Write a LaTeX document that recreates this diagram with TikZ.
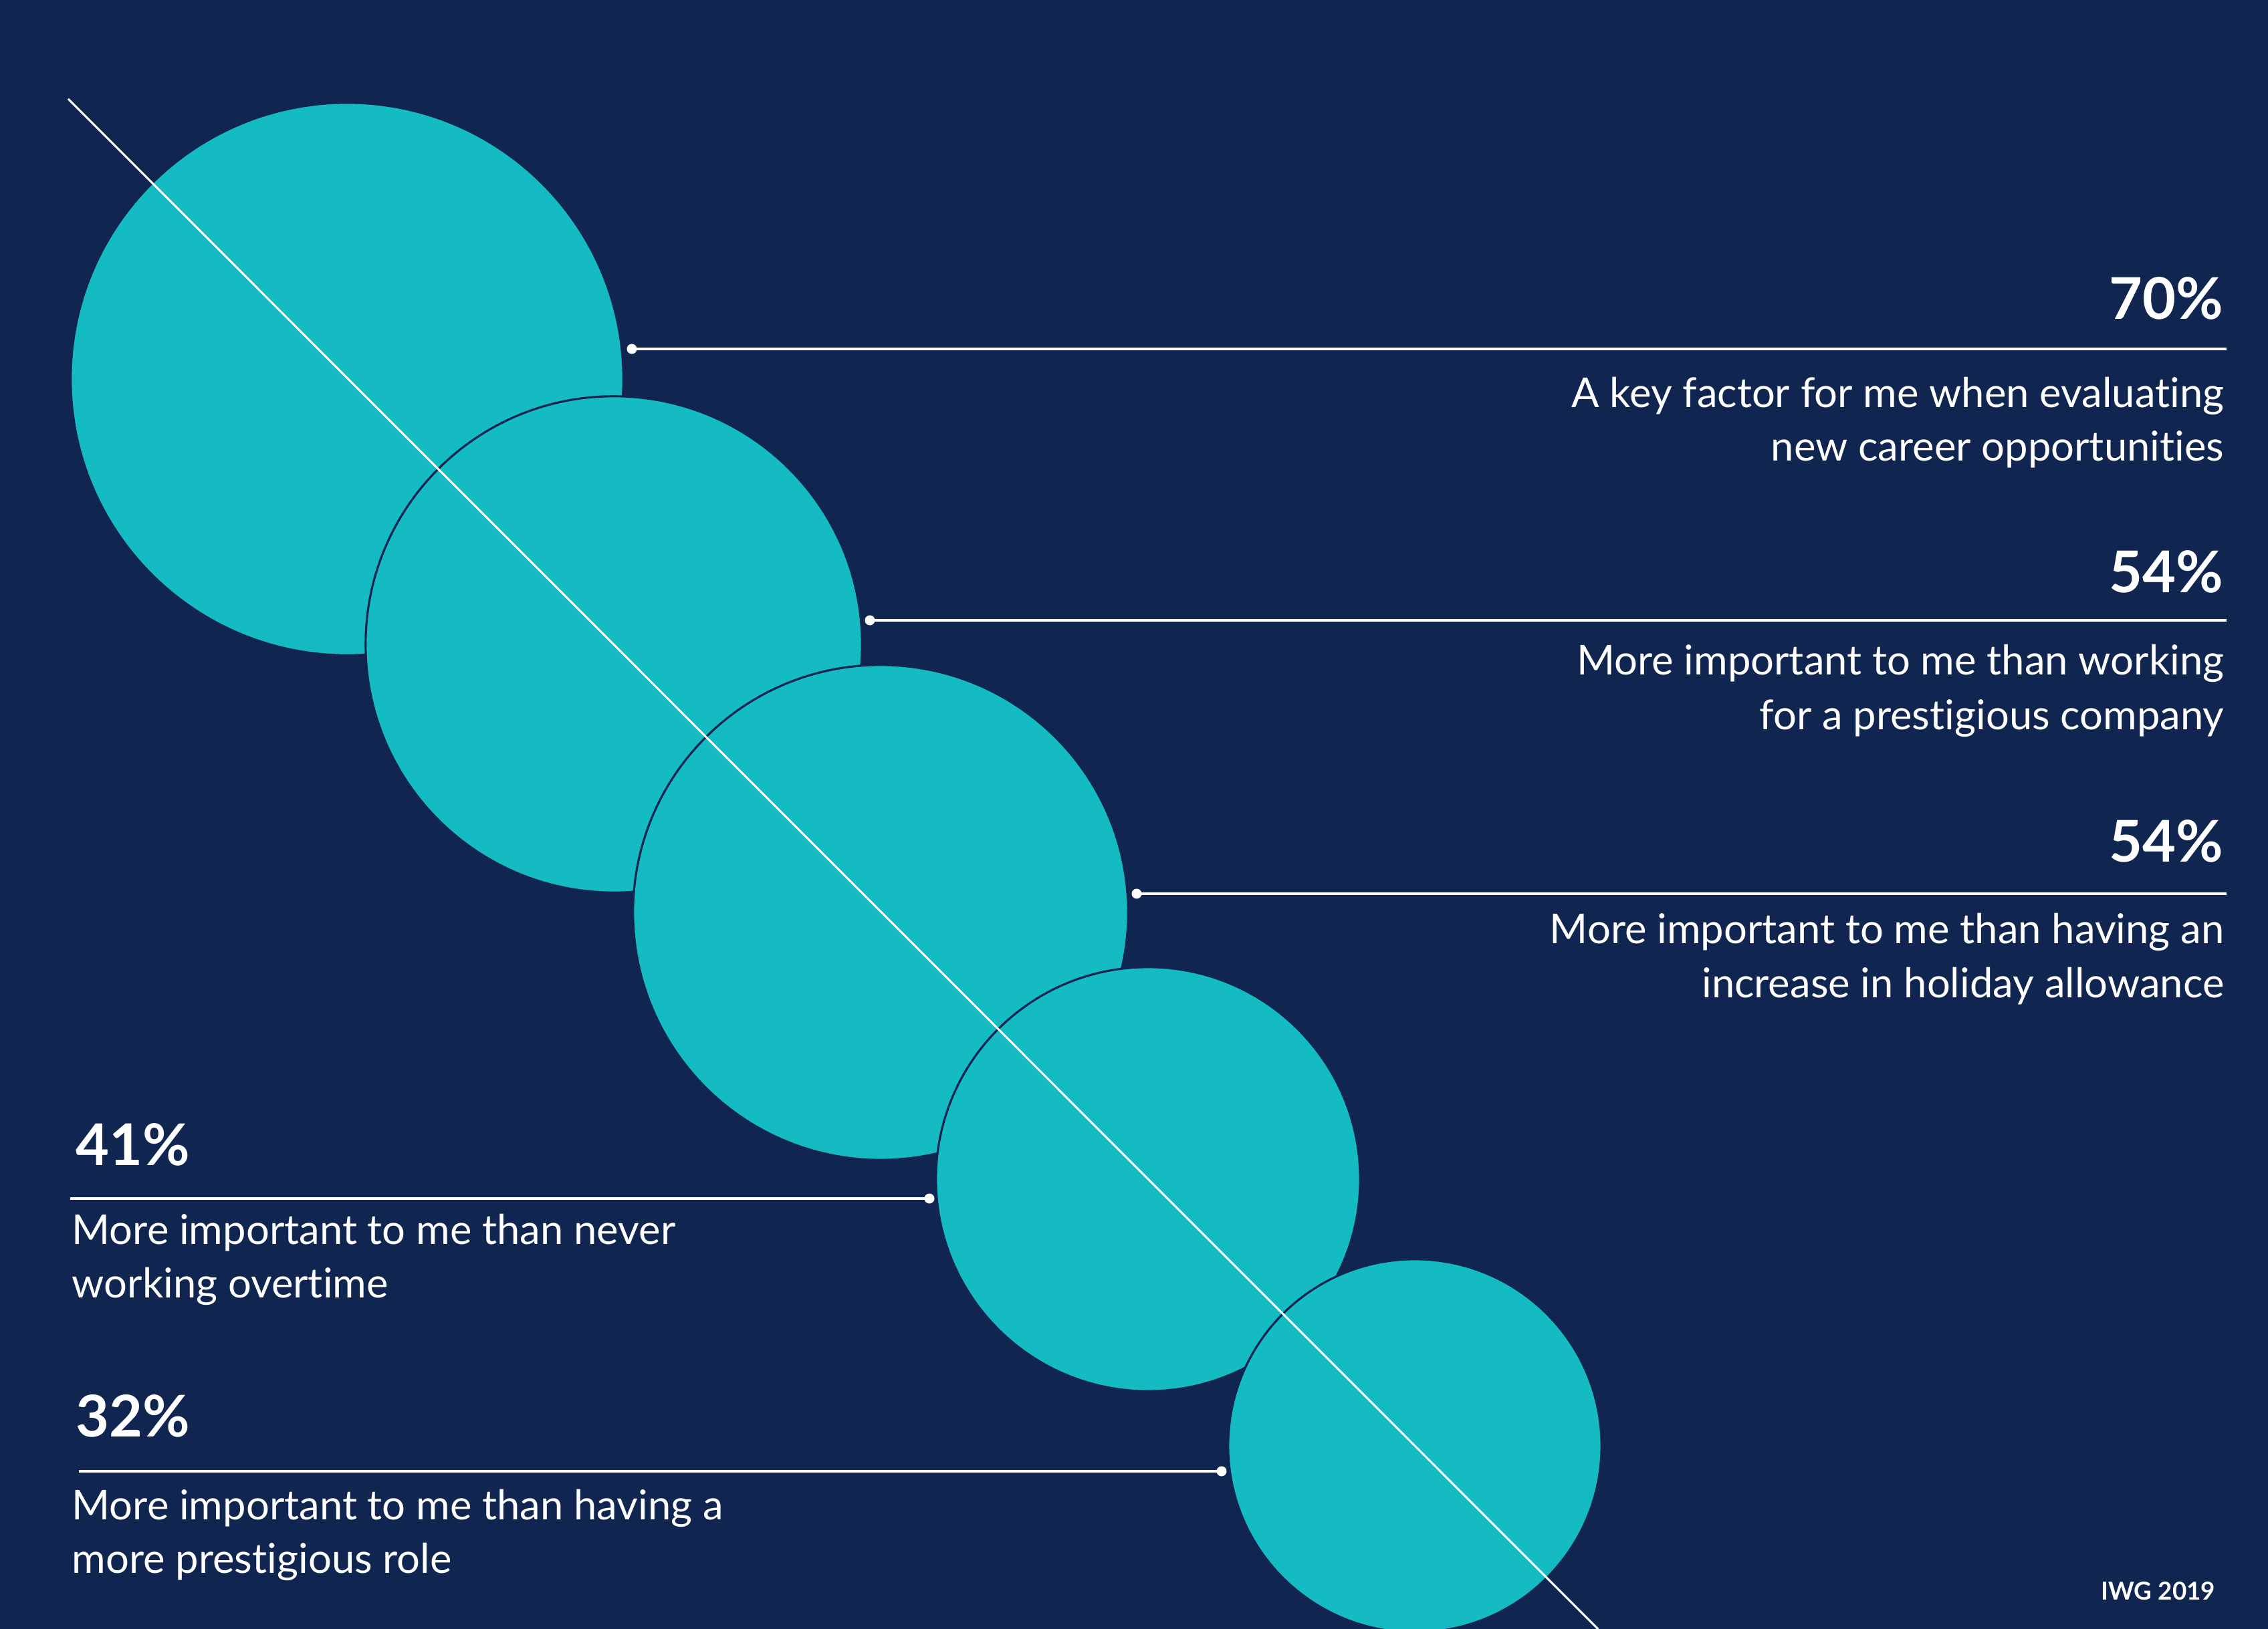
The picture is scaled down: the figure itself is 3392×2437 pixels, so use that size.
\documentclass[tikz,border=0pt]{standalone}
\usepackage{fontspec}
\setmainfont{Lato}[Ligatures=NoCommon]
\usepackage{tikz}
\usetikzlibrary{arrows.meta}

\definecolor{navybg}{RGB}{16,38,80}
\definecolor{tealdot}{RGB}{21,187,195}

\tikzset{
  bubble/.style={circle, fill=tealdot, draw=navybg, line width=0.9pt, inner sep=0pt},
  pin/.style={circle, fill=white, inner sep=0pt, minimum size=0.15cm},
  leader/.style={white, line width=1.1pt},
  pct/.style={text=white, inner sep=0pt, font=\bfseries\fontsize{24.5}{28}\selectfont},
  desc/.style={text=white, inner sep=0pt, font=\fontsize{17.5}{20}\selectfont}
}

\begin{document}
\begin{tikzpicture}[x=0.01cm, y=-0.01cm]
    \useasboundingbox (0, 0) rectangle (3392, 2437);
    \fill[navybg] (0, 0) rectangle (3392, 2437);

    % bubbles, largest first
    \node[bubble, minimum size=8.26cm] (c1) at (519, 567){};
    \node[bubble, minimum size=7.42cm] (c2) at (918, 964){};
    \node[bubble, minimum size=7.40cm] (c3) at (1317, 1365){};
    \node[bubble, minimum size=6.34cm] (c4) at (1717, 1764){};
    \node[bubble, minimum size=5.58cm] (c5) at (2116, 2163){};

    % diagonal
    \coordinate (dA) at (102, 148);
    \coordinate (dB) at (2390, 2437);
    \draw[white, line width=0.85pt] (dA)--(dB);

    % leaders
    \node[pin] (p1) at (945, 522){};
    \node[pin] (p2) at (1301, 928){};
    \node[pin] (p3) at (1700, 1337){};
    \node[pin] (p4) at (1390, 1793){};
    \node[pin] (p5) at (1827, 2201){};
    \coordinate (e1) at (3330, 522);
    \coordinate (e2) at (3330, 928);
    \coordinate (e3) at (3330, 1337);
    \coordinate (e4) at (105, 1793);
    \coordinate (e5) at (118, 2201);
    \draw[leader] (p1.center)--(e1);
    \draw[leader] (p2.center)--(e2);
    \draw[leader] (p3.center)--(e3);
    \draw[leader] (p4.center)--(e4);
    \draw[leader] (p5.center)--(e5);

    % right labels
    \node[pct, anchor=base east] (v1) at (3326, 478){70\%};
    \node[desc, anchor=base east] (t1a) at (3327, 610){A key factor for me when evaluating};
    \node[desc, anchor=base east] (t1b) at (3327, 690){new career opportunities};

    \node[pct, anchor=base east] (v2) at (3326, 887){54\%};
    \node[desc, anchor=base east] (t2a) at (3327, 1010){More important to me than working};
    \node[desc, anchor=base east] (t2b) at (3327, 1092){for a prestigious company};

    \node[pct, anchor=base east] (v3) at (3326, 1290){54\%};
    \node[desc, anchor=base east] (t3a) at (3327, 1412){More important to me than having an};
    \node[desc, anchor=base east] (t3b) at (3327, 1492){increase in holiday allowance};

    % left labels
    \node[pct, anchor=base west] (v4) at (113, 1743){41\%};
    \node[desc, anchor=base west] (t4a) at (107, 1861){More important to me than never};
    \node[desc, anchor=base west] (t4b) at (107, 1941){working overtime};

    \node[pct, anchor=base west] (v5) at (113, 2149){32\%};
    \node[desc, anchor=base west] (t5a) at (107, 2273){More important to me than having a};
    \node[desc, anchor=base west] (t5b) at (107, 2353){more prestigious role};

    \node[text=white, inner sep=0pt, anchor=base east, font=\bfseries\fontsize{10.5}{13}\selectfont] (src) at (3314, 2393){IWG 2019};
\end{tikzpicture}
\end{document}
